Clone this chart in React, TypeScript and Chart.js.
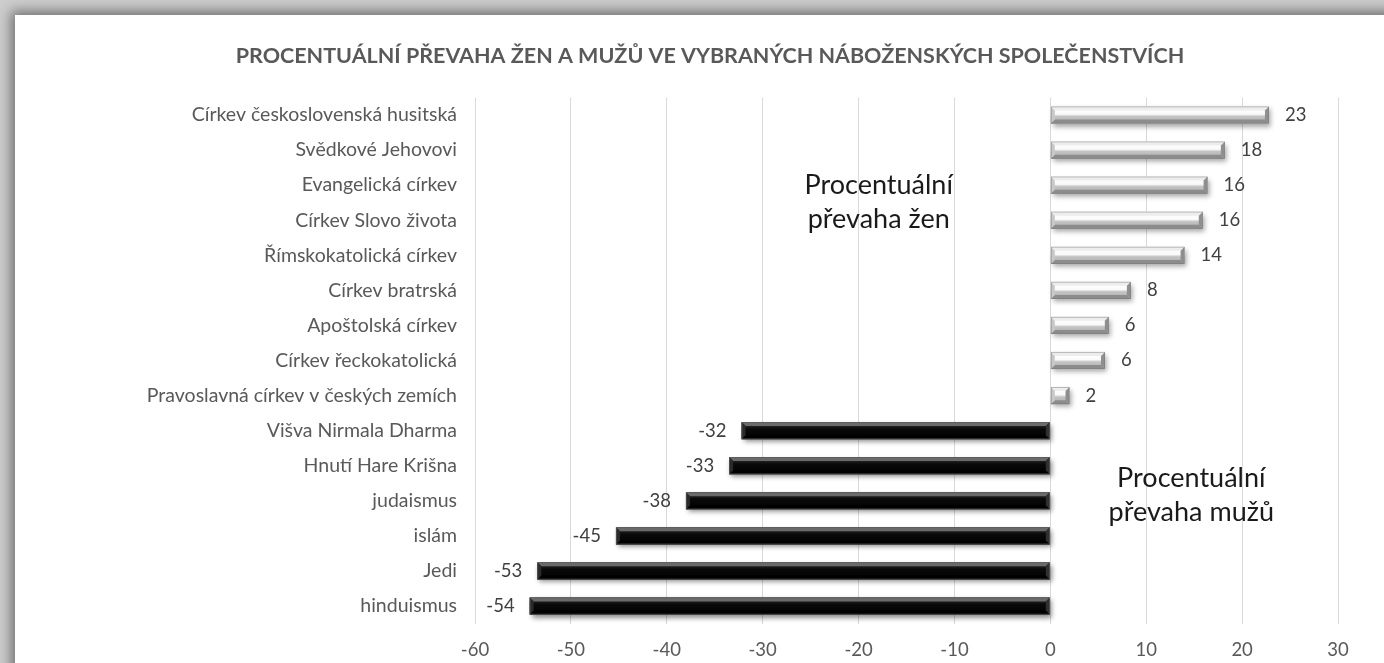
import React, { useEffect, useRef } from "react";
import { Chart, registerables } from "chart.js";

Chart.register(...registerables);

const categories = [
  "Církev československá husitská",
  "Svědkové Jehovovi",
  "Evangelická církev",
  "Církev Slovo života",
  "Římskokatolická církev",
  "Církev bratrská",
  "Apoštolská církev",
  "Církev řeckokatolická",
  "Pravoslavná církev v českých zemích",
  "Višva Nirmala Dharma",
  "Hnutí Hare Krišna",
  "judaismus",
  "islám",
  "Jedi",
  "hinduismus",
];

const values = [22.8, 18.2, 16.4, 15.9, 14.0, 8.4, 6.1, 5.7, 2.0, -32.2, -33.5, -38.0, -45.3, -53.5, -54.3];

const xTicks = [-60, -50, -40, -30, -20, -10, 0, 10, 20, 30];

const titleText = "PROCENTUÁLNÍ PŘEVAHA ŽEN A MUŽŮ VE VYBRANÝCH NÁBOŽENSKÝCH SPOLEČENSTVÍCH";

const annotations = [
  { lines: ["Procentuální", "převaha žen"], xValue: -17.9, yIndex: 2.5 },
  { lines: ["Procentuální", "převaha mužů"], xValue: 14.7, yIndex: 10.83 },
];

const FONT = "Lato, 'Open Sans', sans-serif";

const bevelPlugin = {
  id: "bevelBars",
  afterDatasetsDraw(chart: any) {
    const ctx: CanvasRenderingContext2D = chart.ctx;
    const meta = chart.getDatasetMeta(0);
    meta.data.forEach((el: any, i: number) => {
      const p = el.getProps(["x", "y", "base", "height"], true);
      const left = Math.min(p.x, p.base);
      const right = Math.max(p.x, p.base);
      const top = p.y - p.height / 2;
      const bottom = p.y + p.height / 2;
      const h = bottom - top;
      const w = right - left;
      const b = Math.min(4, w / 2, h / 2);
      const pos = values[i] >= 0;
      ctx.save();
      ctx.shadowColor = pos ? "rgba(0,0,0,0.35)" : "rgba(0,0,0,0.45)";
      ctx.shadowBlur = 5;
      ctx.shadowOffsetX = 2;
      ctx.shadowOffsetY = 3;
      ctx.fillStyle = "#ffffff";
      ctx.fillRect(left, top, w, h);
      ctx.restore();

      ctx.save();
      const g = ctx.createLinearGradient(0, top, 0, bottom);
      if (pos) {
        g.addColorStop(0, "#ffffff");
        g.addColorStop(0.45, "#fafafa");
        g.addColorStop(0.58, "#c4c4c4");
        g.addColorStop(1, "#aaaaaa");
      } else {
        g.addColorStop(0, "#3c3c3c");
        g.addColorStop(0.4, "#0a0a0a");
        g.addColorStop(1, "#000000");
      }
      ctx.fillStyle = g;
      ctx.fillRect(left, top, w, h);

      const poly = (pts: number[][], color: string) => {
        ctx.beginPath();
        ctx.moveTo(pts[0][0], pts[0][1]);
        for (let k = 1; k < pts.length; k++) ctx.lineTo(pts[k][0], pts[k][1]);
        ctx.closePath();
        ctx.fillStyle = color;
        ctx.fill();
      };
      poly(
        [[left, top], [right, top], [right - b, top + b], [left + b, top + b]],
        pos ? "#ededed" : "#6a6a6a"
      );
      poly(
        [[left, bottom], [right, bottom], [right - b, bottom - b], [left + b, bottom - b]],
        pos ? "#8c8c8c" : "#000000"
      );
      poly(
        [[left, top], [left + b, top + b], [left + b, bottom - b], [left, bottom]],
        pos ? "#c8c8c8" : "#2a2a2a"
      );
      poly(
        [[right, top], [right - b, top + b], [right - b, bottom - b], [right, bottom]],
        pos ? "#8f8f8f" : "#303030"
      );
      ctx.strokeStyle = pos ? "rgba(120,120,120,0.6)" : "rgba(90,90,90,0.9)";
      ctx.lineWidth = 0.8;
      ctx.strokeRect(left + 0.4, top + 0.4, w - 0.8, h - 0.8);
      ctx.restore();

      ctx.save();
      ctx.font = `18.5px ${FONT}`;
      ctx.fillStyle = "#404040";
      ctx.textBaseline = "middle";
      const label = String(Math.round(values[i]));
      if (pos) {
        ctx.textAlign = "left";
        ctx.fillText(label, right + 16, p.y);
      } else {
        ctx.textAlign = "right";
        ctx.fillText(label, left - 15, p.y);
      }
      ctx.restore();
    });

    const xs = chart.scales.x;
    const ys = chart.scales.y;
    ctx.save();
    ctx.font = `27px ${FONT}`;
    ctx.fillStyle = "#1a1a1a";
    ctx.textAlign = "center";
    ctx.textBaseline = "middle";
    const step = ys.getPixelForValue(1) - ys.getPixelForValue(0);
    annotations.forEach((a) => {
      const cx = xs.getPixelForValue(a.xValue);
      const cy = ys.getPixelForValue(0) + step * a.yIndex;
      const lh = 34;
      a.lines.forEach((ln, k) => {
        ctx.fillText(ln, cx, cy + (k - (a.lines.length - 1) / 2) * lh);
      });
    });
    ctx.restore();
  },
};

export default function App() {
  const ref = useRef<HTMLCanvasElement | null>(null);

  useEffect(() => {
    document.body.style.margin = "0";
    if (!ref.current) return;
    const chart = new Chart(ref.current, {
      type: "bar",
      data: {
        labels: categories,
        datasets: [
          {
            data: values,
            backgroundColor: "rgba(0,0,0,0)",
            borderWidth: 0,
            categoryPercentage: 1,
            barPercentage: 0.49,
          },
        ],
      },
      options: {
        indexAxis: "y",
        responsive: false,
        animation: false,
        layout: { padding: { left: 67, right: 67, top: 0, bottom: 0 } },
        plugins: {
          legend: { display: false },
          tooltip: { enabled: false },
          title: {
            display: true,
            text: titleText,
            color: "#595959",
            font: { family: FONT, size: 21.5, weight: "bold", lineHeight: 1.2 },
            padding: { top: 28, bottom: 28.7 },
          },
        },
        scales: {
          x: {
            min: -60,
            max: 30,
            afterBuildTicks: (scale: any) => {
              scale.ticks = xTicks.map((v) => ({ value: v }));
            },
            afterFit: (scale: any) => {
              scale.height = 39.5;
            },
            grid: { color: "#d9d9d9", lineWidth: 1, drawTicks: false },
            border: { display: false },
            ticks: {
              color: "#595959",
              font: { family: FONT, size: 18.5 },
              padding: 15.4,
            },
          },
          y: {
            afterFit: (scale: any) => {
              scale.width = 393;
            },
            grid: { display: false, drawTicks: false },
            border: { display: false },
            ticks: {
              color: "#595959",
              font: { family: FONT, size: 19.5 },
              padding: 18,
              autoSkip: false,
            },
          },
        },
      },
      plugins: [bevelPlugin],
    });
    return () => chart.destroy();
  }, []);

  return (
    <div
      style={{
        position: "fixed",
        inset: 0,
        overflow: "hidden",
        background: "#cdcdcd",
      }}
    >
      <div
        style={{
          position: "absolute",
          left: 15,
          top: 15,
          width: 1390,
          height: 720,
          background: "#ffffff",
          boxShadow: "0 0 12px 4px rgba(0,0,0,0.45)",
        }}
      >
        <canvas ref={ref} width={1390} height={648} style={{ width: 1390, height: 648, display: "block" }} />
      </div>
    </div>
  );
}
